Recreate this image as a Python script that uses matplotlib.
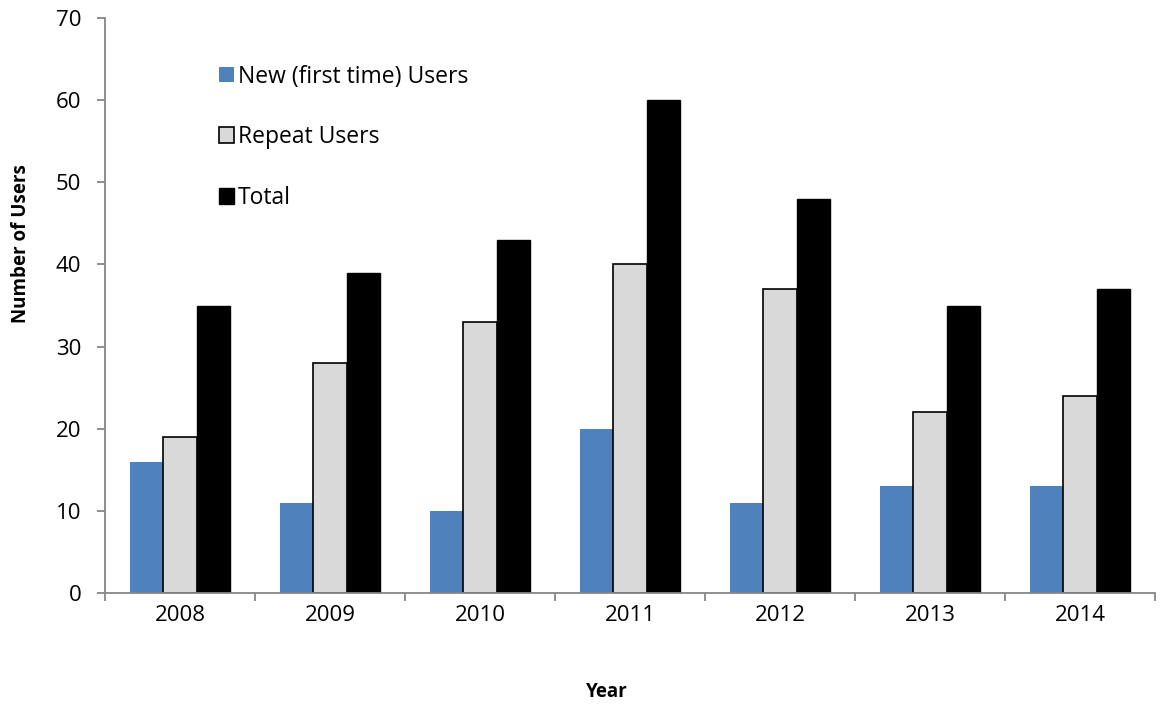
import numpy as np
import matplotlib.pyplot as plt
from matplotlib.patches import Patch

years = ['2008', '2009', '2010', '2011', '2012', '2013', '2014']
new_users = [16, 11, 10, 20, 11, 13, 13]
repeat_users = [19, 28, 33, 40, 37, 22, 24]
total_users = [35, 39, 43, 60, 48, 35, 37]

plt.rcParams['font.family'] = ['Open Sans', 'DejaVu Sans']

fig = plt.figure(figsize=(11.61, 7.10), dpi=100)
ax = fig.add_axes([0.0904, 0.1648, 0.9044, 0.8098])

x = np.arange(len(years))
w = 0.222
ax.bar(x - w, new_users, w, color='#4F81BD', linewidth=0)
ax.bar(x, repeat_users, w, color='#D9D9D9', edgecolor='black', linewidth=1.2)
ax.bar(x + w, total_users, w, color='black', edgecolor='black', linewidth=1)

ax.set_xlim(-0.5, len(years) - 0.5)
ax.set_ylim(0, 70)
ax.set_yticks(range(0, 71, 10))

# category labels centred, tick marks on the boundaries
ax.set_xticks(x)
ax.set_xticklabels(years)
ax.set_xticks(np.arange(-0.5, len(years)), minor=True)
ax.tick_params(axis='x', which='major', length=0, pad=8.5, labelsize=16)
ax.tick_params(axis='x', which='minor', length=6, width=1.3, color='#868686', direction='out')
ax.tick_params(axis='y', length=6, width=1.3, color='#868686', pad=11, labelsize=16)

for s in ['top', 'right']:
    ax.spines[s].set_visible(False)
for s in ['left', 'bottom']:
    ax.spines[s].set_color('#868686')
    ax.spines[s].set_linewidth(1.3)

ax.set_ylabel('Number of Users', fontsize=13.5, fontweight='bold')
ax.yaxis.set_label_coords(-0.07, 0.607)
ax.set_xlabel('Year', fontsize=13.5, fontweight='bold')
ax.xaxis.set_label_coords(0.478, -0.155)

handles = [Patch(facecolor='#4F81BD', edgecolor='none'),
           Patch(facecolor='#D9D9D9', edgecolor='black', linewidth=1.2),
           Patch(facecolor='black', edgecolor='black')]
labels = ['New (first time) Users', 'Repeat Users', 'Total']
ax.legend(handles, labels, loc='upper left', bbox_to_anchor=(0.1, 0.935),
          frameon=False, fontsize=16.5, handlelength=0.66, handleheight=0.66,
          handletextpad=0.17, labelspacing=1.6, borderaxespad=0)

fig.savefig('out.png', dpi=100)
